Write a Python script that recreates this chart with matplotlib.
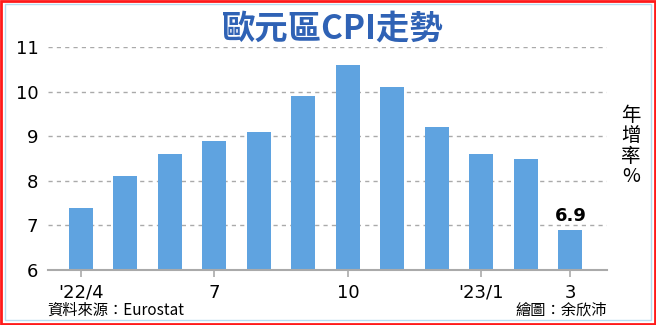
import matplotlib
matplotlib.use("Agg")
import matplotlib.pyplot as plt
from matplotlib.patches import Rectangle

plt.rcParams['font.family'] = ['Noto Sans CJK TC', 'DejaVu Sans']

months = ["'22/4", "5", "6", "7", "8", "9", "10", "11", "12", "'23/1", "2", "3"]
cpi = [7.4, 8.1, 8.6, 8.9, 9.1, 9.9, 10.6, 10.1, 9.2, 8.6, 8.5, 6.9]
tick_idx = [0, 3, 6, 9, 11]
yticks = [6, 7, 8, 9, 10, 11]

fig = plt.figure(figsize=(6.56, 3.25), dpi=100)
ax = fig.add_axes([0.0732, 0.1692, 0.8518, 0.6862])

x = list(range(len(cpi)))
ax.bar(x, [v - 6 for v in cpi], bottom=6, width=0.54, color='#5fa3e0', zorder=3)

for y in yticks[1:]:
    ax.axhline(y, color='#aaaaaa', lw=1, ls=(0, (3, 3)), zorder=1)

ax.set_xlim(-0.74, 11.82)
ax.set_ylim(6, 11)
for s in ['top', 'right', 'left']:
    ax.spines[s].set_visible(False)
ax.spines['bottom'].set_color('#aaaaaa')
ax.spines['bottom'].set_linewidth(1.5)
ax.spines['bottom'].set_zorder(4)

ax.set_yticks(yticks)
ax.set_yticklabels([str(v) for v in yticks], fontsize=13, family='DejaVu Sans')
ax.tick_params(axis='y', length=0, pad=7)
ax.set_xticks(tick_idx)
ax.set_xticklabels([months[i] for i in tick_idx], fontsize=13, family='DejaVu Sans')
ax.tick_params(axis='x', length=5, color='#aaaaaa', width=1.2, pad=5)

ax.text(x[-1], cpi[-1] + 0.12, f"{cpi[-1]}", ha='center', va='bottom',
        fontsize=13, fontweight='bold', family='DejaVu Sans')

fig.text(0.507, 0.912, "歐元區CPI走勢", ha='center', va='center', fontsize=24,
         fontweight='bold', color='#2f62b5')
fig.text(0.962, 0.551, "年\n增\n率\n%", ha='center', va='center', fontsize=14,
         linespacing=0.95)
fig.text(0.072, 0.046, "資料來源：Eurostat", ha='left', va='center', fontsize=11)
fig.text(0.925, 0.046, "繪圖：余欣沛", ha='right', va='center', fontsize=11)

# frame
fig.patches.append(Rectangle((0.0015, 0.003), 0.997, 0.994, transform=fig.transFigure,
                             fill=False, edgecolor='#ff1a1a', lw=2))
fig.patches.append(Rectangle((0.008, 0.015), 0.984, 0.972, transform=fig.transFigure,
                             fill=False, edgecolor='#b8dcf0', lw=1))

fig.savefig("out.png", dpi=100)
